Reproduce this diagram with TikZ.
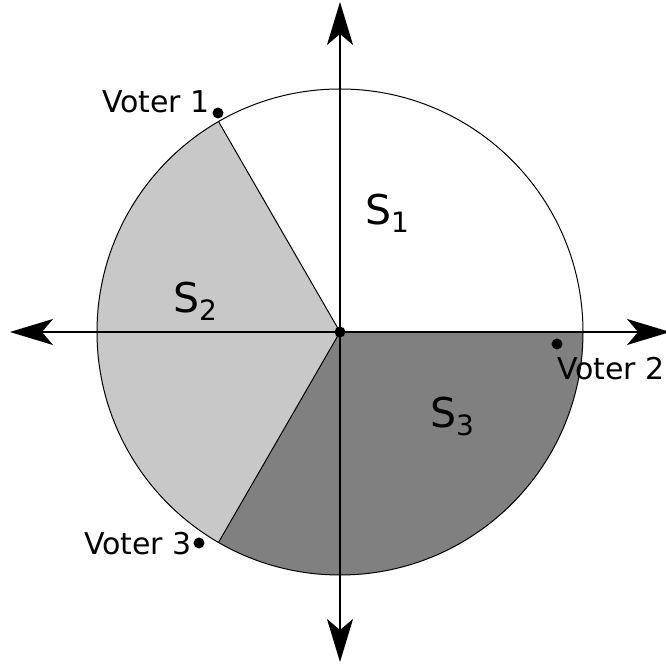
\documentclass[tikz,border=0pt]{standalone}
\usepackage{fontspec}
\setmainfont{DejaVu Sans}
\usetikzlibrary{arrows.meta}
\definecolor{lightsec}{HTML}{C8C8C8}
\definecolor{darksec}{HTML}{808080}
\tikzset{
  axis/.style={line width=2pt, {Stealth[length=43pt,width=26pt,inset=11pt]}-{Stealth[length=43pt,width=26pt,inset=11pt]}},
  sector/.style={draw=black, line width=1pt},
  votedot/.style={circle, fill=black, inner sep=0pt, minimum size=11pt},
  votelabel/.style={anchor=base west, inner sep=0pt, font=\fontsize{30}{30}\selectfont},
  seclabel/.style={anchor=base west, inner sep=0pt, font=\fontsize{41}{41}\selectfont}
}
\newcommand{\sublab}[1]{\raisebox{-8pt}{\fontsize{28}{28}\selectfont #1}}
\begin{document}
\begin{tikzpicture}[x=1pt,y=1pt]
\useasboundingbox (0,0) rectangle (666,666);
\coordinate (c) at (340,334);
% sectors
\fill[white] (c) -- ++(0:243) arc (0:120:243) -- cycle;
\fill[lightsec] (c) -- ++(120:243) arc (120:240:243) -- cycle;
\fill[darksec] (c) -- ++(240:243) arc (240:360:243) -- cycle;
\draw[sector] (c) circle (243);
\draw[sector] (c) -- ++(120:243);
\draw[sector] (c) -- ++(240:243);
% axes
\coordinate (xl) at (10,334);
\coordinate (xr) at (670,334);
\coordinate (yt) at (340,664);
\coordinate (yb) at (340,4);
\draw[axis] (xl) -- (xr);
\draw[axis] (yb) -- (yt);
\node[votedot] (o) at (c) {};
% labels
\node[seclabel] (s1) at (365,441) {S\sublab{1}};
\node[seclabel] (s2) at (173,353) {S\sublab{2}};
\node[seclabel] (s3) at (430,238) {S\sublab{3}};
% voters
\node[votedot] (v1) at (218,553) {};
\node[votedot] (v2) at (557,322) {};
\node[votedot] (v3) at (199,123) {};
\node[votelabel] (t1) at (102,553) {Voter 1};
\node[votelabel] (t2) at (557,286) {Voter 2};
\node[votelabel] (t3) at (84,111) {Voter 3};
\end{tikzpicture}
\end{document}
